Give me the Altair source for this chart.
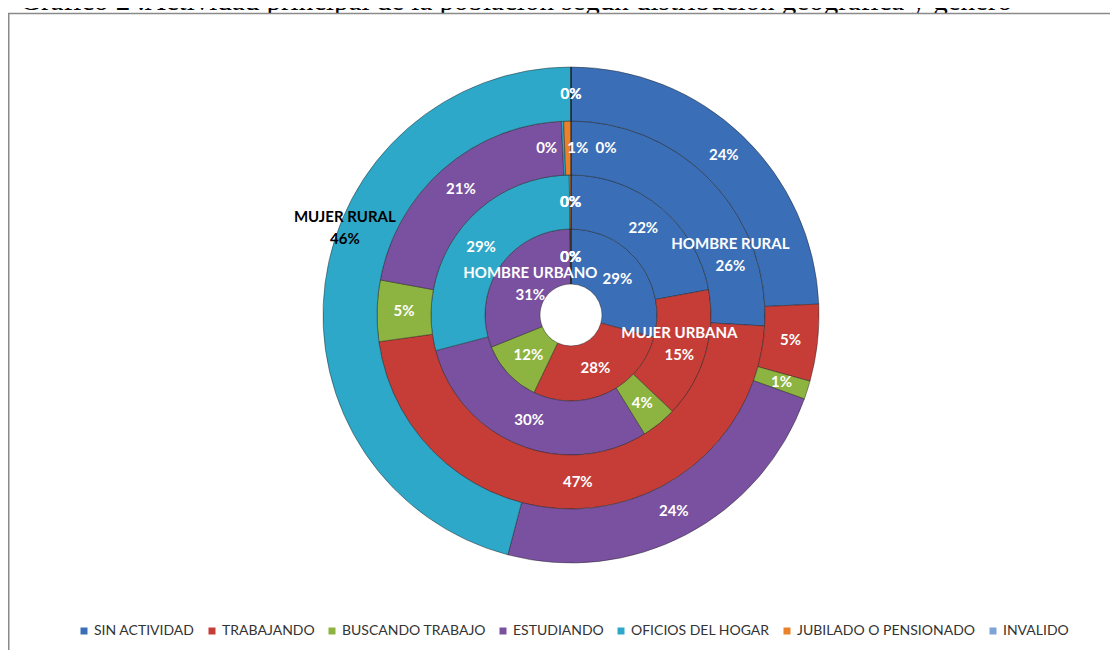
import altair as alt
import pandas as pd

# ---------------- data ----------------
rings = ["HOMBRE URBANO", "MUJER URBANA", "HOMBRE RURAL", "MUJER RURAL"]
categories = [
    "SIN ACTIVIDAD",
    "TRABAJANDO",
    "BUSCANDO TRABAJO",
    "ESTUDIANDO",
    "OFICIOS DEL HOGAR",
    "JUBILADO O PENSIONADO",
    "INVALIDO",
]
hombre_urbano = [29.2, 27.9, 11.8, 30.9, 0.1, 0.1, 0.0]
mujer_urbana = [22.1, 15.0, 4.1, 29.7, 28.9, 0.2, 0.0]
hombre_rural = [25.9, 46.9, 5.1, 21.3, 0.2, 0.6, 0.0]
mujer_rural = [24.3, 5.0, 1.2, 23.6, 45.9, 0.0, 0.0]
series_values = [hombre_urbano, mujer_urbana, hombre_rural, mujer_rural]
# point of each ring whose label also shows the series name
named_points = ["ESTUDIANDO", "TRABAJANDO", "SIN ACTIVIDAD", "OFICIOS DEL HOGAR"]
title_text = ("Gráfico 2 .Actividad principal de la población según "
              "distribución geográfica y género")

# ---------------- styles ----------------
colors = ["#3A6FB7", "#C63D38", "#8DB440", "#7A51A0", "#2EA8C8", "#E9822B", "#7EA3D6"]
W, H = 1102, 642
CX, CY = 563, 307
TOP = 5  # top edge of the framed chart area (title sits above it, cut off)
ring_inner = [31, 86, 140, 194]
ring_outer = [86, 140, 194, 248]
FONT = "Lato"

rows = []
for ring, vals in zip(rings, series_values):
    for i, (cat, v) in enumerate(zip(categories, vals)):
        rows.append({"ring": ring, "category": cat, "order": i, "value": v})
df = pd.DataFrame(rows)

theta_scale = alt.Scale(domain=[0, 100], range=[0, 6.283185307179586])
color_scale = alt.Scale(domain=categories, range=colors)
legend = alt.Legend(
    orient="none", legendX=69, legendY=616, direction="horizontal", title=None,
    symbolType="square", symbolSize=49, symbolStrokeWidth=0, symbolOpacity=1,
    labelFont=FONT, labelFontSize=14, labelColor="#333333", labelOffset=3,
    labelLimit=400, columnPadding=10,
)

base = (
    alt.Chart(df)
    .transform_stack(stack="value", groupby=["ring"], as_=["v0", "v1"],
                     sort=[alt.SortField("order", order="ascending")])
    .transform_calculate(
        mid="(datum.v0 + datum.v1) / 2",
        pct="format(datum.value / 100, '.0%')",
        named="datum.ring + '\\n' + format(datum.value / 100, '.0%')",
    )
)

one = pd.DataFrame({"a": [0]})
title = alt.Chart(one).mark_text(
    text=title_text, font="Liberation Serif", fontSize=29, align="left",
    baseline="alphabetic", color="black").encode(x=alt.value(12), y=alt.value(TOP - 3))
# white chart area drawn over the lower part of the title, as in the source
chart_area = alt.Chart(one).mark_rect(fill="white").encode(
    x=alt.value(0), x2=alt.value(W + 8), y=alt.value(TOP), y2=alt.value(H + 8))

layers = [title, chart_area]
for k, ring in enumerate(rings):
    arc = (
        base.transform_filter(alt.datum.ring == ring)
        .mark_arc(innerRadius=ring_inner[k], outerRadius=ring_outer[k],
                  stroke="#1f1f1f", strokeOpacity=0.45, strokeWidth=1)
        .encode(
            theta=alt.Theta("v0:Q", scale=theta_scale),
            theta2="v1:Q",
            color=alt.Color("category:N", scale=color_scale, legend=legend),
            x=alt.value(CX), y=alt.value(CY),
        )
    )
    layers.append(arc)

label_mark = dict(font=FONT, fontSize=15, fontWeight="bold", color="white")
special_top = ["OFICIOS DEL HOGAR", "JUBILADO O PENSIONADO", "INVALIDO"]
for k, ring in enumerate(rings):
    rmid = (ring_inner[k] + ring_outer[k]) / 2
    flt = (alt.datum.ring == ring) & (alt.datum.category != named_points[k])
    if ring == "HOMBRE RURAL":
        for c in special_top:
            flt = flt & (alt.datum.category != c)
    txt = (
        base.transform_filter(flt)
        .mark_text(radius=rmid, **label_mark)
        .encode(theta=alt.Theta("mid:Q", scale=theta_scale, stack=False),
                text="pct:N", x=alt.value(CX), y=alt.value(CY))
    )
    layers.append(txt)

# separated small labels at the top of HOMBRE RURAL
for c, dx in zip(special_top, [-17, 10, 35]):
    k = 2
    rmid = (ring_inner[k] + ring_outer[k]) / 2
    txt = (
        base.transform_filter((alt.datum.ring == rings[k]) & (alt.datum.category == c))
        .mark_text(radius=rmid, dx=dx, **label_mark)
        .encode(theta=alt.Theta("mid:Q", scale=theta_scale, stack=False),
                text="pct:N", x=alt.value(CX), y=alt.value(CY))
    )
    layers.append(txt)

# labels with series name
named_offsets = [(8, -10), (0, -14), (38, 44), (-7, -70)]
named_colors = ["white", "white", "white", "black"]
for k, ring in enumerate(rings):
    rmid = (ring_inner[k] + ring_outer[k]) / 2
    dx, dy = named_offsets[k]
    txt = (
        base.transform_filter((alt.datum.ring == ring) & (alt.datum.category == named_points[k]))
        .mark_text(radius=rmid, dx=dx, dy=dy, font=FONT, fontSize=15, fontWeight="bold",
                   color=named_colors[k], lineBreak="\n", lineHeight=22)
        .encode(theta=alt.Theta("mid:Q", scale=theta_scale, stack=False),
                text="named:N", x=alt.value(CX), y=alt.value(CY))
    )
    layers.append(txt)

frame_left = alt.Chart(one).mark_rule(color="#8a8a8a", strokeWidth=1.5).encode(
    x=alt.value(0.75), y=alt.value(TOP), y2=alt.value(H + 8))
frame_top = alt.Chart(one).mark_rule(color="#8a8a8a", strokeWidth=1.5).encode(
    x=alt.value(0), x2=alt.value(W + 8), y=alt.value(TOP + 0.5))
layers += [frame_left, frame_top]

chart = (
    alt.layer(*layers)
    .properties(width=W, height=H, autosize=alt.AutoSizeParams(type="none"), padding=0)
    .configure_view(stroke=None)
)

chart.save("out.html", embed_options={"renderer": "svg", "actions": False})
